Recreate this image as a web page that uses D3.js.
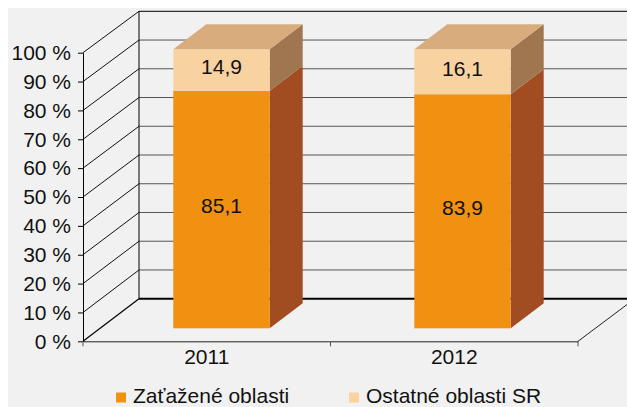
<!DOCTYPE html>
<html>
<head>
<meta charset="utf-8">
<script src="https://cdn.jsdelivr.net/npm/d3@7"></script>
<style>
  body { margin: 0; background: #fff; }
  svg { display: block; font-family: "Liberation Sans", Arial, sans-serif; }
</style>
</head>
<body>
<svg id="chart" width="627" height="407"></svg>
<script>
// data
const years = ['2011', '2012'];
const zatazene = [85.1, 83.9];
const ostatne = [14.9, 16.1];
const seriesNames = ['Zaťažené oblasti', 'Ostatné oblasti SR'];
const yTicks = [0, 10, 20, 30, 40, 50, 60, 70, 80, 90, 100];

const svg = d3.select('#chart');

// config
const cs = {
  bg: '#f1f1f1',
  depth: { dx: 56, dy: -42 },       // floor / side wall depth
  bar: { dx: 33, dy: -25 },          // bar depth
  front: {
    low: '#f09112', lowSide: '#a14d21',
    high: '#f8d3a1', highSide: '#9f7650', top: '#d8ac7c',
  },
  font: 21,
};

svg.append('rect')
  .attr('x', 8).attr('y', 8).attr('width', 619).attr('height', 399)
  .attr('fill', cs.bg);

// scales
const yFront = d3.scaleLinear().domain([0, 100]).range([341.3, 52.7]);
const yBack = d3.scaleLinear().domain([0, 100]).range([298.7, 11.3]);
const x = d3.scaleBand().domain(years).range([83, 578]);
const xBar = d3.scaleBand().domain(years).range([101, 583]);
const yBar = d3.scaleLinear().domain([0, 100]).range([328.3, 49.3]);

const wallX = 83 + cs.depth.dx;
const rightX = 578 + cs.depth.dx;

// back wall gridlines
const grid = svg.append('g');
grid.selectAll('line.back')
  .data(yTicks.filter(d => d > 0))
  .enter().append('line')
  .attr('x1', wallX).attr('x2', 627)
  .attr('y1', d => yBack(d)).attr('y2', d => yBack(d))
  .attr('stroke', d => (d === 100 ? '#000' : '#555'))
  .attr('stroke-width', 1);

// side wall diagonals
grid.selectAll('line.side')
  .data(yTicks.filter(d => d > 0))
  .enter().append('line')
  .attr('x1', 83).attr('y1', d => yFront(d))
  .attr('x2', wallX).attr('y2', d => yBack(d))
  .attr('stroke', '#111').attr('stroke-width', 1);

// back wall left edge
grid.append('line')
  .attr('x1', wallX).attr('x2', wallX)
  .attr('y1', yBack(0)).attr('y2', yBack(100))
  .attr('stroke', '#000');

// floor
grid.append('line')
  .attr('x1', wallX).attr('x2', 627)
  .attr('y1', yBack(0)).attr('y2', yBack(0))
  .attr('stroke', '#000').attr('stroke-width', 2);
grid.append('line')
  .attr('x1', 83).attr('y1', yFront(0))
  .attr('x2', wallX).attr('y2', yBack(0))
  .attr('stroke', '#000').attr('stroke-width', 1.2);
grid.append('line')
  .attr('x1', 578).attr('y1', yFront(0))
  .attr('x2', rightX).attr('y2', yFront(0) + cs.depth.dy)
  .attr('stroke', '#222').attr('stroke-width', 1);

// bars
const stack = years.map((y, i) => ({
  year: y,
  segs: [
    { y0: 0, y1: zatazene[i], fill: cs.front.low, side: cs.front.lowSide },
    { y0: zatazene[i], y1: zatazene[i] + ostatne[i], fill: cs.front.high, side: cs.front.highSide },
  ],
}));

const barW = xBar.bandwidth() * 0.4;
const bx = d => xBar(d) + (xBar.bandwidth() - barW) / 2;
const bdx = cs.bar.dx;
const bdy = cs.bar.dy;

const bars = svg.append('g').selectAll('g')
  .data(stack)
  .enter().append('g');

bars.each(function drawBar(d) {
  const g = d3.select(this);
  const x0 = bx(d.year);
  const x1 = x0 + barW;
  d.segs.forEach((s) => {
    g.append('path')
      .attr('d', `M${x1},${yBar(s.y0)} L${x1 + bdx},${yBar(s.y0) + bdy} L${x1 + bdx},${yBar(s.y1) + bdy} L${x1},${yBar(s.y1)} Z`)
      .attr('fill', s.side);
    g.append('rect')
      .attr('x', x0).attr('y', yBar(s.y1))
      .attr('width', barW).attr('height', yBar(s.y0) - yBar(s.y1))
      .attr('fill', s.fill);
  });
  const top = yBar(d.segs[1].y1);
  g.append('path')
    .attr('d', `M${x0},${top} L${x0 + bdx},${top + bdy} L${x1 + bdx},${top + bdy} L${x1},${top} Z`)
    .attr('fill', cs.front.top);
  d.segs.forEach((s) => {
    g.append('text')
      .attr('x', (x0 + x1) / 2)
      .attr('y', (yBar(s.y0) + yBar(s.y1)) / 2 - 3.5)
      .attr('dy', '0.35em')
      .attr('text-anchor', 'middle')
      .attr('font-size', cs.font)
      .attr('fill', '#111')
      .text(d3.format('.1f')(s.y1 - s.y0).replace('.', ','));
  });
});

// y axis
const yAxis = d3.axisLeft(yFront)
  .tickValues(yTicks)
  .tickFormat(d => `${d} %`)
  .tickSize(5).tickSizeOuter(0).tickPadding(7);
const ya = svg.append('g')
  .attr('transform', 'translate(83,0)')
  .call(yAxis);
ya.select('.domain').attr('stroke', '#000');
ya.selectAll('.tick line').attr('stroke', '#000');
ya.selectAll('text').attr('font-size', cs.font).attr('font-family', null).attr('fill', '#111');

// x axis
const xAxis = d3.axisBottom(x).tickSize(0).tickPadding(8);
const xa = svg.append('g')
  .attr('transform', `translate(0,${yFront(0)})`)
  .call(xAxis);
xa.select('.domain').attr('stroke', '#222');
xa.selectAll('text').attr('font-size', cs.font).attr('font-family', null).attr('fill', '#111');
xa.selectAll('line.bound')
  .data([83, x(years[1]), 578])
  .enter().append('line')
  .attr('class', 'bound')
  .attr('x1', d => d).attr('x2', d => d)
  .attr('y1', 0).attr('y2', 5)
  .attr('stroke', '#555');

// legend
const legendX = [116, 349];
const legend = svg.append('g').selectAll('g')
  .data(seriesNames)
  .enter().append('g')
  .attr('transform', (d, i) => `translate(${legendX[i]},392.5)`);
legend.append('rect')
  .attr('width', 10).attr('height', 10)
  .attr('fill', (d, i) => (i === 0 ? cs.front.low : cs.front.high));
legend.append('text')
  .attr('x', 17).attr('y', 10.5)
  .attr('font-size', cs.font)
  .attr('fill', '#111')
  .text(d => d);
</script>
</body>
</html>
